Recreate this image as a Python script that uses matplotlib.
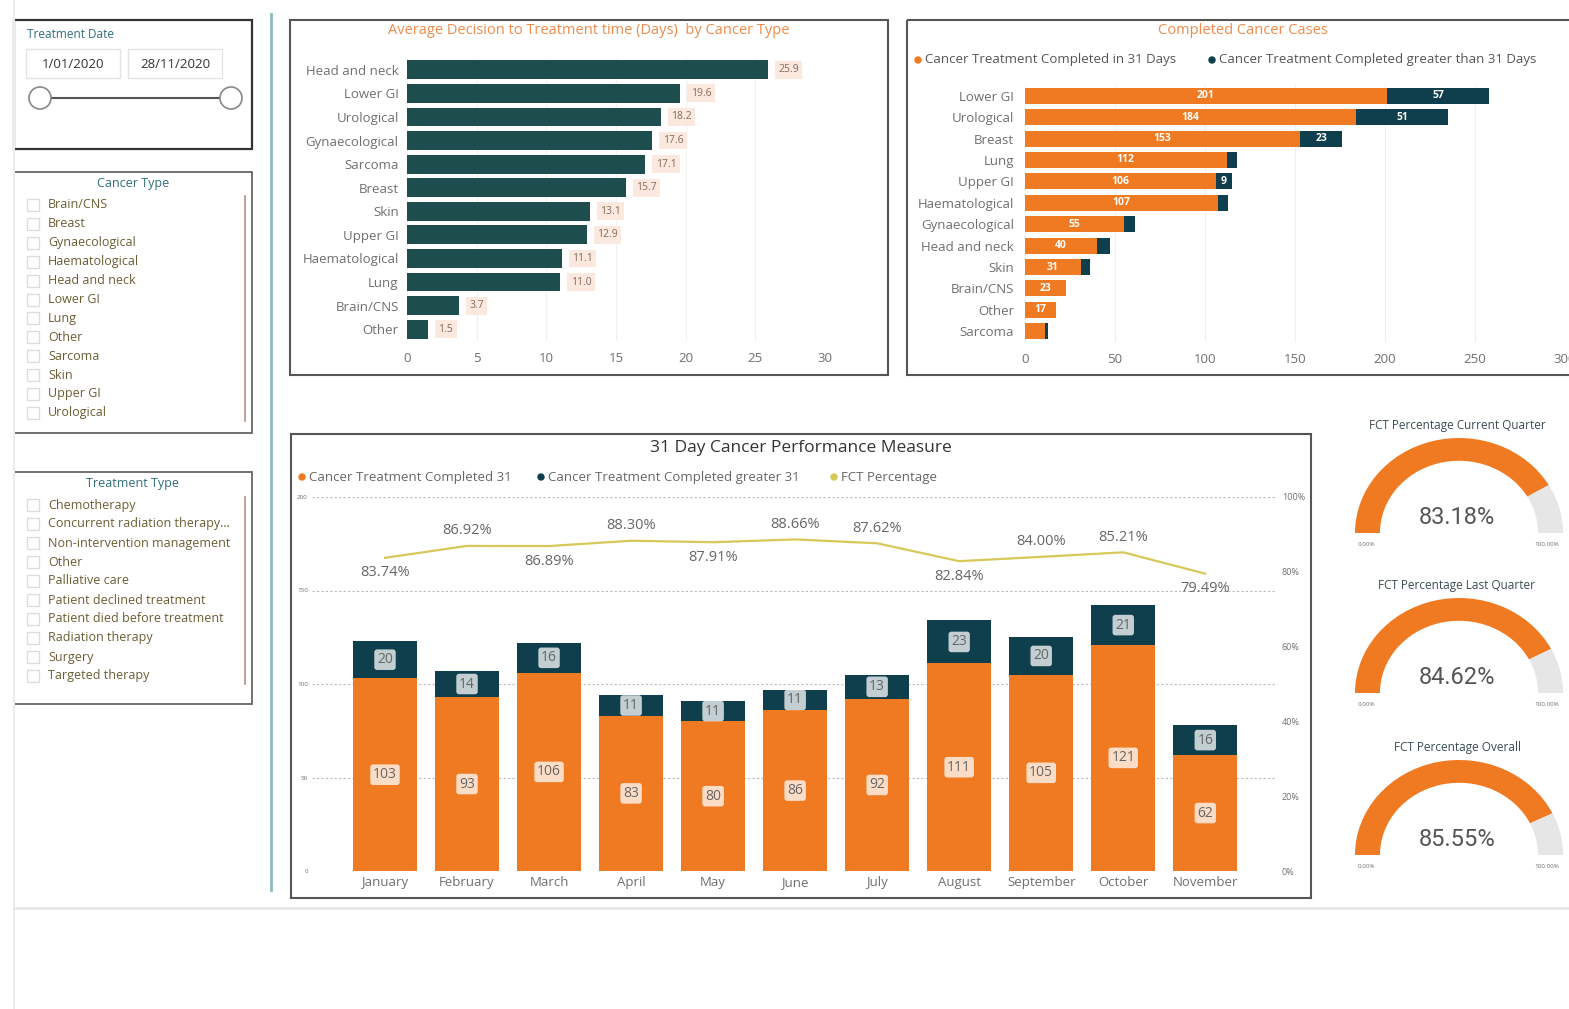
import numpy as np
import matplotlib.pyplot as plt
import matplotlib.transforms as mtransforms
from matplotlib.patches import Rectangle, Wedge, Circle

W, H = 1569, 1009
plt.rcParams['font.family'] = ['Open Sans', 'DejaVu Sans']

# ---- data ----
avg_types = ["Head and neck", "Lower GI", "Urological", "Gynaecological", "Sarcoma", "Breast",
             "Skin", "Upper GI", "Haematological", "Lung", "Brain/CNS", "Other"]
avg_days = [25.9, 19.6, 18.2, 17.6, 17.1, 15.7, 13.1, 12.9, 11.1, 11.0, 3.7, 1.5]

case_types = ["Lower GI", "Urological", "Breast", "Lung", "Upper GI", "Haematological",
              "Gynaecological", "Head and neck", "Skin", "Brain/CNS", "Other", "Sarcoma"]
cases_in31 = [201, 184, 153, 112, 106, 107, 55, 40, 31, 23, 17, 11]
cases_over31 = [57, 51, 23, 6, 9, 6, 6, 7, 5, 0, 0, 2]

months = ["January", "February", "March", "April", "May", "June", "July", "August",
          "September", "October", "November"]
month_in31 = [103, 93, 106, 83, 80, 86, 92, 111, 105, 121, 62]
month_over31 = [20, 14, 16, 11, 11, 11, 13, 23, 20, 21, 16]
fct_pct = [83.74, 86.92, 86.89, 88.30, 87.91, 88.66, 87.62, 82.84, 84.00, 85.21, 79.49]
fct_label_side = [1, -1, 1, -1, 1, -1, -1, 1, -1, -1, 1]  # 1 = below line

gauge_titles = ["FCT Percentage Current Quarter", "FCT Percentage Last Quarter",
                "FCT Percentage Overall"]
gauge_values = [83.18, 84.62, 85.55]

date_from, date_to = "1/01/2020", "28/11/2020"
cancer_list = ["Brain/CNS", "Breast", "Gynaecological", "Haematological", "Head and neck",
               "Lower GI", "Lung", "Other", "Sarcoma", "Skin", "Upper GI", "Urological"]
treatment_list = ["Chemotherapy", "Concurrent radiation therapy...", "Non-intervention management",
                  "Other", "Palliative care", "Patient declined treatment",
                  "Patient died before treatment", "Radiation therapy", "Surgery",
                  "Targeted therapy"]

ORANGE = '#F07A22'
DARK = '#0F3F4C'
TEAL = '#1E4D4D'
YELLOW = '#D8C85A'
TITLE_OR = '#EE8B4A'
GREY = '#6f6f6f'
SLICER_TXT = '#6b5d33'
SLICER_TTL = '#2f6f7a'

fig = plt.figure(figsize=(W / 100, H / 100), dpi=100)
bg = fig.add_axes([0, 0, 1, 1])
bg.set_xlim(0, W)
bg.set_ylim(H, 0)
bg.axis('off')


def add_ax(x0, y0, x1, y1):
    return fig.add_axes([x0 / W, 1 - y1 / H, (x1 - x0) / W, (y1 - y0) / H])


def box(x0, y0, x1, y1, ec='#555555', lw=1.5):
    bg.add_patch(Rectangle((x0, y0), x1 - x0, y1 - y0, fill=False, ec=ec, lw=lw))


def clean(ax):
    for s in ax.spines.values():
        s.set_visible(False)
    ax.set_facecolor('none')


# page lines
bg.plot([14, 14], [0, H], color='#ececec', lw=1.5)
bg.plot([14, W], [908, 908], color='#e8e8e8', lw=2)
bg.plot([271, 271], [14, 890], color='#8fb9c4', lw=2)

# ---- slicers ----
box(14, 20, 252, 149, ec='#333333', lw=1.6)
bg.text(27, 34, "Treatment Date", color=SLICER_TTL, fontsize=8.5, va='center')
for (x0, x1, t) in [(26, 120, date_from), (128, 222, date_to)]:
    bg.add_patch(Rectangle((x0, 49), x1 - x0, 29, fill=False, ec='#e4e4e4', lw=1))
    bg.text((x0 + x1) / 2, 64, t, ha='center', va='center', fontsize=9.5, color='#333333')
bg.plot([40, 231], [98, 98], color='#555555', lw=1.5)
for cx in (40, 231):
    bg.add_patch(Circle((cx, 98), 11, fc='white', ec='#888888', lw=1.2, zorder=3))


def slicer(y0, y1, title, items, y_first, step, sb):
    box(14, y0, 252, y1, ec='#666666', lw=1.3)
    bg.text(133, y0 + 11, title, ha='center', va='center', color=SLICER_TTL, fontsize=9)
    for i, it in enumerate(items):
        y = y_first + i * step
        bg.add_patch(Rectangle((27, y - 6), 12, 12, fill=False, ec='#dddddd', lw=1))
        bg.text(48, y, it, va='center', fontsize=9, color=SLICER_TXT)
    bg.plot([245, 245], sb, color='#b99c8c', lw=1.3)


slicer(172, 433, "Cancer Type", cancer_list, 205, 18.9, [196, 421])
slicer(472, 704, "Treatment Type", treatment_list, 505, 19.0, [497, 684])

# ---- chart 1: average decision to treatment ----
box(290, 20, 888, 375)
bg.text(589, 31, "Average Decision to Treatment time (Days)  by Cancer Type", ha='center',
        va='center', color=TITLE_OR, fontsize=10.5)
ax1 = add_ax(407, 58, 825, 341)
clean(ax1)
pos = np.arange(len(avg_types))
ax1.barh(pos, avg_days, height=0.8, color=TEAL, zorder=2)
ax1.set_ylim(len(avg_types) - 0.5, -0.5)
ax1.set_xlim(0, 30)
ax1.set_yticks(pos, avg_types)
ax1.set_xticks(range(0, 31, 5))
ax1.grid(axis='x', color='#f1f1f1', lw=0.8)
ax1.set_axisbelow(True)
ax1.tick_params(length=0, labelsize=9.5, colors=GREY)
ax1.tick_params(axis='y', pad=6)
ax1.tick_params(axis='x', pad=8)
for i, v in enumerate(avg_days):
    ax1.text(v + 0.75, i, f"{v:.1f}", va='center', ha='left', fontsize=7.5, color='#8a6a5a',
             bbox=dict(fc='#fbe8de', ec='none', pad=2.5))

# ---- chart 2: completed cancer cases ----
box(907, 20, W + 5, 375)
bg.text(1243, 31, "Completed Cancer Cases", ha='center', va='center', color=TITLE_OR, fontsize=10.5)
bg.add_patch(Circle((918, 60), 3, color=ORANGE))
bg.text(925, 60, "Cancer Treatment Completed in 31 Days", va='center', fontsize=9.5, color='#555555')
bg.add_patch(Circle((1212, 60), 3, color=DARK))
bg.text(1219, 60, "Cancer Treatment Completed greater than 31 Days", va='center', fontsize=9.5,
        color='#555555')
ax2 = add_ax(1025, 85, 1565, 342)
clean(ax2)
pos2 = np.arange(len(case_types))
ax2.barh(pos2, cases_in31, height=0.75, color=ORANGE, zorder=2)
ax2.barh(pos2, cases_over31, left=cases_in31, height=0.75, color=DARK, zorder=2)
ax2.set_ylim(len(case_types) - 0.5, -0.5)
ax2.set_xlim(0, 300)
ax2.set_yticks(pos2, case_types)
ax2.set_xticks(range(0, 301, 50))
ax2.grid(axis='x', color='#eeeeee', lw=0.8)
ax2.set_axisbelow(True)
ax2.tick_params(length=0, labelsize=9.5, colors=GREY)
ax2.tick_params(axis='y', pad=8)
ax2.tick_params(axis='x', pad=8)
for i, (a, b) in enumerate(zip(cases_in31, cases_over31)):
    if a >= 15:
        ax2.text(a / 2, i, str(a), ha='center', va='center', fontsize=7.5, color='white',
                 fontweight='bold')
    if b >= 9:
        ax2.text(a + b / 2, i, str(b), ha='center', va='center', fontsize=7.5, color='white',
                 fontweight='bold')

# ---- chart 3: 31 day performance ----
box(291, 434, 1311, 898)
bg.text(801, 448, "31 Day Cancer Performance Measure", ha='center', va='center', fontsize=12.5,
        color='#333333')
leg = [(302, ORANGE, "Cancer Treatment Completed 31"),
       (541, DARK, "Cancer Treatment Completed greater 31"),
       (834, YELLOW, "FCT Percentage")]
for lx, c, t in leg:
    bg.add_patch(Circle((lx, 477), 3, color=c))
    bg.text(lx + 7, 477, t, va='center', fontsize=9.5, color='#666666')

ax3 = add_ax(312, 497, 1275, 871)
clean(ax3)
xm = np.arange(len(months))
ax3.bar(xm, month_in31, width=0.78, color=ORANGE, zorder=2)
ax3.bar(xm, month_over31, bottom=month_in31, width=0.78, color=DARK, zorder=2)
ax3.set_ylim(0, 200)
ax3.set_xlim(-0.89, 10.85)
ax3.set_yticks(range(0, 201, 50))
ax3.set_xticks(xm, [''] * len(months))
ax3.grid(axis='y', color='#bbbbbb', lw=0.8, ls=(0, (2, 2)))
ax3.set_axisbelow(True)
ax3.tick_params(length=0, colors=GREY)
ax3.tick_params(axis='y', labelsize=4.5, pad=3)
# month names on a common baseline
trans = mtransforms.blended_transform_factory(ax3.transData, ax3.transAxes)
for i, m in enumerate(months):
    ax3.text(i, -15 / 374, m, transform=trans, ha='center', va='baseline', fontsize=9.5,
             color=GREY)
for i, (a, b) in enumerate(zip(month_in31, month_over31)):
    ax3.text(i, a / 2, str(a), ha='center', va='center', fontsize=10, color='#666666', zorder=4,
             bbox=dict(boxstyle='round,pad=0.2', fc='white', ec='none', alpha=0.75))
    ax3.text(i, a + b / 2, str(b), ha='center', va='center', fontsize=10, color='#666666', zorder=4,
             bbox=dict(boxstyle='round,pad=0.2', fc='white', ec='none', alpha=0.75))

ax4 = ax3.twinx()
clean(ax4)
ax4.set_ylim(0, 100)
ax4.set_yticks(range(0, 101, 20), [f"{v}%" for v in range(0, 101, 20)])
ax4.tick_params(length=0, labelsize=6.5, colors=GREY, pad=5)
ax4.plot(xm, fct_pct, color=YELLOW, lw=1.6, zorder=3)
for i, (v, s) in enumerate(zip(fct_pct, fct_label_side)):
    ax4.annotate(f"{v:.2f}%", (i, v), xytext=(0, -15 * s), textcoords='offset pixels',
                 ha='center', va='center', fontsize=10.5, color='#666666')

# ---- gauges ----
gauge_rows = [(426, 438, 533), (586, 598, 693), (748, 760, 855)]
for (ty, top, base), t, v in zip(gauge_rows, gauge_titles, gauge_values):
    bg.text(1457, ty, t, ha='center', va='center', fontsize=8.5, color='#3a4c52')
    gax = add_ax(1355, top, 1563, base)
    gax.set_xlim(-1, 1)
    gax.set_ylim(0, 1)
    gax.axis('off')
    split = 180 * (1 - v / 100)
    gax.add_patch(Wedge((0, 0), 1, split, 180, width=0.24, color=ORANGE, lw=0))
    gax.add_patch(Wedge((0, 0), 1, 0, split, width=0.24, color='#e6e6e6', lw=0))
    bg.text(1457, base - 16, f"{v:.2f}%", ha='center', va='center', fontsize=17,
            color='#555555', family=['Roboto', 'DejaVu Sans'])
    bg.text(1366, base + 11, "0.00%", ha='center', va='center', fontsize=4.5, color=GREY)
    bg.text(1547, base + 11, "100.00%", ha='center', va='center', fontsize=4.5, color=GREY)

fig.savefig('out.png', dpi=100)
